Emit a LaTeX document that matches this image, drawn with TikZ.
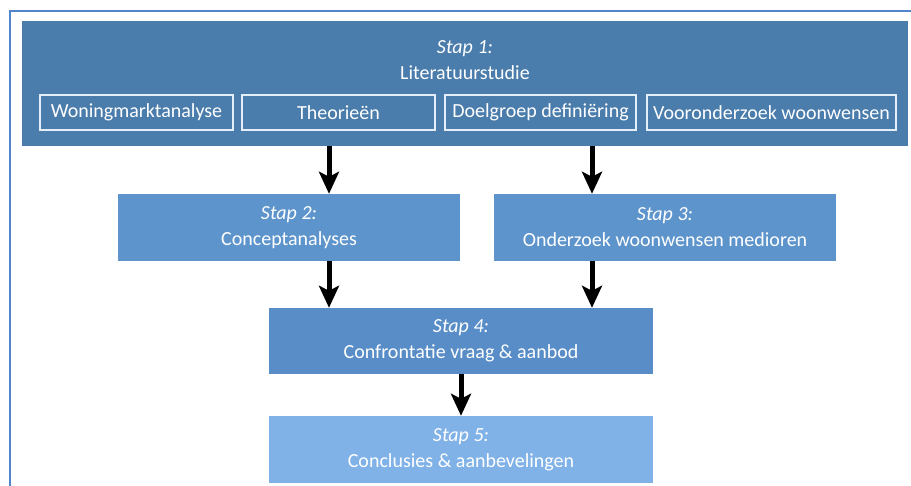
\documentclass[tikz,border=0pt]{standalone}
\usepackage{fontspec}
\setmainfont{Carlito}
\usetikzlibrary{arrows.meta, positioning}
\definecolor{frameblue}{RGB}{79,134,206}
\definecolor{stepdark}{RGB}{74,124,172}
\definecolor{stepmid}{RGB}{93,148,204}
\definecolor{stepfour}{RGB}{88,141,199}
\definecolor{steplight}{RGB}{128,178,232}
\definecolor{boxline}{RGB}{228,238,248}
\tikzset{
    stepbox/.style={rectangle, draw=none, text=white, align=center, inner sep=0pt, font=\fontsize{20}{26}\selectfont},
    subbox/.style={rectangle, draw=boxline, line width=1.5pt, fill=stepdark, text=white, inner sep=0pt, minimum height=35pt, font=\fontsize{20}{26}\selectfont},
    flowarrow/.style={-{Stealth[width=20pt,length=22pt,inset=5pt]}, line width=5pt, black}
}

\begin{document}
\begin{tikzpicture}[x=1pt, y=-1pt]
    \useasboundingbox (0,0) rectangle (911,486);
    \begin{scope}
        \clip (0,0) rectangle (911,486);
        \draw[frameblue, line width=1.5pt] (10,11) rectangle (930,510);
    \end{scope}

    % Stap 1 with its four parts
    \node[stepbox, fill=stepdark, minimum width=886pt, minimum height=125pt] (stap1) at (465,83.5) {};
    \node[stepbox] (stap1title) at (465,60) {\textit{Stap 1:}\\Literatuurstudie};
    \node[subbox, minimum width=193pt] (markt) at (136.5,112.5) {Woningmarktanalyse};
    \node[subbox, minimum width=193pt] (theorie) at (338.5,112.5) {Theorieën};
    \node[subbox, minimum width=191pt] (doelgroep) at (540.5,112.5) {Doelgroep definiëring};
    \node[subbox, minimum width=249pt] (vooronderzoek) at (771.5,112.5) {Vooronderzoek woonwensen};

    % Stap 2 to 5
    \node[stepbox, fill=stepmid, minimum width=342pt, minimum height=67pt] (stap2) at (289,227.5) {\textit{Stap 2:}\\Conceptanalyses};
    \node[stepbox, fill=stepmid, minimum width=342pt, minimum height=67pt] (stap3) at (665,227.5) {\textit{Stap 3:}\\Onderzoek woonwensen medioren};
    \node[stepbox, fill=stepfour, minimum width=384pt, minimum height=66pt] (stap4) at (461,341) {\textit{Stap 4:}\\Confrontatie vraag \& aanbod};
    \node[stepbox, fill=steplight, minimum width=384pt, minimum height=67pt] (stap5) at (461,449.5) {\textit{Stap 5:}\\Conclusies \& aanbevelingen};

    \coordinate (colleft) at (329,0);
    \coordinate (colright) at (592,0);

    \draw[flowarrow] (stap1.south -| colleft) -- (stap2.north -| colleft);
    \draw[flowarrow] (stap1.south -| colright) -- (stap3.north -| colright);
    \draw[flowarrow] (stap2.south -| colleft) -- (stap4.north -| colleft);
    \draw[flowarrow] (stap3.south -| colright) -- (stap4.north -| colright);
    \draw[flowarrow] (stap4) -- (stap5);
\end{tikzpicture}
\end{document}
